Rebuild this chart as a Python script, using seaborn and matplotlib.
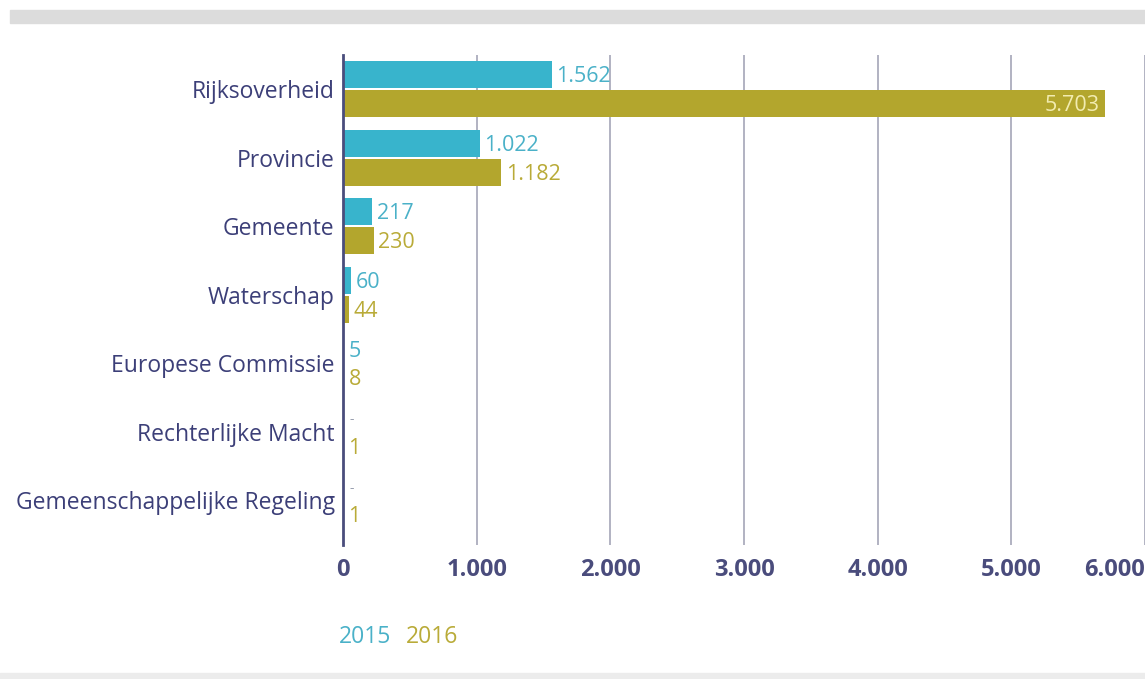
import pandas as pd
import seaborn as sns
import matplotlib.pyplot as plt
from matplotlib.patches import Rectangle

# Data
categorieen = ["Rijksoverheid", "Provincie", "Gemeente", "Waterschap",
               "Europese Commissie", "Rechterlijke Macht",
               "Gemeenschappelijke Regeling"]
waarden_2015 = [1562, 1022, 217, 60, 5, None, None]
waarden_2016 = [5703, 1182, 230, 44, 8, 1, 1]
jaren = ["2015", "2016"]
x_ticks = [0, 1000, 2000, 3000, 4000, 5000, 6000]

kleur_2015 = "#38b4cc"
kleur_2016 = "#b3a62d"
tekst_2015 = "#4ab1c8"
tekst_2016 = "#b9ab38"
navy = "#3c3f78"

df = pd.DataFrame({
    "categorie": categorieen * 2,
    "jaar": [jaren[0]] * len(categorieen) + [jaren[1]] * len(categorieen),
    "waarde": waarden_2015 + waarden_2016,
})
df_plot = df.fillna(0)

plt.rcParams["font.family"] = ["Open Sans", "DejaVu Sans"]

fig = plt.figure(figsize=(11.45, 6.79), dpi=100)
ax = fig.add_axes([343 / 1145, 1 - 545 / 679, 802 / 1145, 490 / 679])

sns.barplot(data=df_plot, y="categorie", x="waarde", hue="jaar",
            order=categorieen, hue_order=jaren, saturation=1,
            palette=[kleur_2015, kleur_2016], orient="h",
            width=0.84, gap=0.06, legend=False, ax=ax, zorder=3)

ax.set_xlim(0, 6000)
ax.set_ylim(6.65, -0.5)
ax.set_xticks(x_ticks)
ax.set_xticklabels([f"{v:,}".replace(",", ".") for v in x_ticks],
                   fontsize=17, fontweight="bold", color="#4a4c7c")
ax.get_xticklabels()[-1].set_horizontalalignment("right")
ax.tick_params(axis="x", length=0, pad=9)
ax.tick_params(axis="y", length=0, pad=6)
for lbl in ax.get_yticklabels():
    lbl.set_fontsize(16.5)
    lbl.set_color(navy)
ax.set_xlabel("")
ax.set_ylabel("")
ax.grid(axis="x", color="#9c9eb2", linewidth=1.1, zorder=0)
for s in ["top", "right", "bottom"]:
    ax.spines[s].set_visible(False)
ax.spines["left"].set_color("#4a4d7c")
ax.spines["left"].set_linewidth(2)
ax.spines["left"].set_zorder(5)

def fmt(v):
    return f"{int(v):,}".replace(",", ".")

# value labels
for container, waarden, kleur in zip(ax.containers, [waarden_2015, waarden_2016],
                                      [tekst_2015, tekst_2016]):
    for bar, v in zip(container, waarden):
        yc = bar.get_y() + bar.get_height() / 2 + 0.03
        if v is None:
            ax.text(45, yc, "-", color="#9aa0b0", fontsize=10,
                    va="center", ha="left")
        elif v > 5000:
            ax.text(v - 45, yc, fmt(v), color="#f2ecb0", fontsize=15.5,
                    va="center", ha="right", zorder=6)
        else:
            ax.text(v + 35, yc, fmt(v), color=kleur, fontsize=15.5,
                    va="center", ha="left", zorder=6)

# legend as coloured text
fig.text(339 / 1145, 1 - 637 / 679, "2015", color=tekst_2015, fontsize=16.5,
         va="center", ha="left")
fig.text(406 / 1145, 1 - 637 / 679, "2016", color=tekst_2016, fontsize=16.5,
         va="center", ha="left")

# grey bands top and bottom
fig.patches.append(Rectangle((10 / 1145, 1 - 23 / 679), 1, 13 / 679,
                             transform=fig.transFigure, color="#dcdcdc",
                             zorder=0))
fig.patches.append(Rectangle((0, 0), 1, 6 / 679, transform=fig.transFigure,
                             color="#ececec", zorder=0))

fig.savefig("out.png", dpi=100)
